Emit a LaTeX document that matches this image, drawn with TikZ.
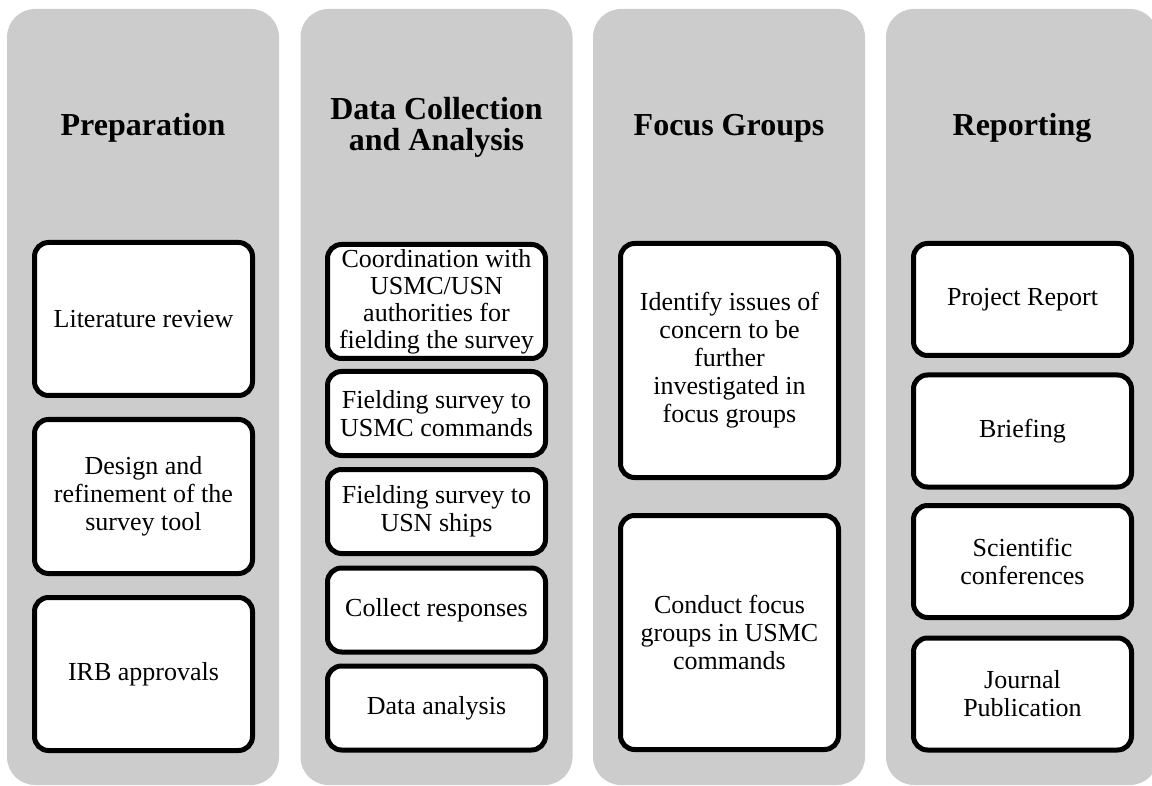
\documentclass[tikz,border=0pt]{standalone}
\usepackage{fontspec}
\setmainfont{Liberation Serif}
\usepackage{tikz}
\usetikzlibrary{positioning}
\definecolor{phasegrey}{HTML}{CCCCCC}

\begin{document}
\begin{tikzpicture}[x=0.5pt,y=-0.5pt,
	column/.style={fill=phasegrey, rounded corners=14pt, minimum width=136pt, minimum height=388pt, inner sep=0pt},
	phase/.style={font=\fontsize{16}{15.5}\selectfont\bfseries, align=center},
	task/.style={draw, fill=white, line width=2.5pt, rounded corners=7pt, minimum width=109pt, text width=104pt, inner sep=1pt, align=flush center, font=\fontsize{13}{14}\selectfont}]
	\useasboundingbox (0,0) rectangle (1152,786);
	% columns
	\node[column] (prep) at (143,397) {};
	\node[column] (data) at (436.5,397) {};
	\node[column] (focus) at (729,397) {};
	\node[column] (report) at (1022,397) {};
	% headings
	\node[phase] (prephead) at (143,128) {Preparation};
	\node[phase] (datahead) at (436.5,127) {Data Collection\\and Analysis};
	\node[phase] (focushead) at (729,128) {Focus Groups};
	\node[phase] (reporthead) at (1022,128) {Reporting};
	% preparation
	\node[task, minimum height=76.5pt] (lit) at (143.5,319) {Literature review};
	\node[task, minimum height=77pt] (design) at (143.5,496.5) {Design and\\refinement of the\\survey tool};
	\node[task, minimum height=76.5pt] (irb) at (143.5,674) {IRB approvals};
	% data collection and analysis
	\node[task, minimum height=57pt, font=\fontsize{13}{13.5}\selectfont] (coord) at (436.5,301.5) {Coordination with\\USMC/USN\\authorities for\\fielding the survey};
	\node[task, minimum height=42pt] (usmc) at (436.5,413.5) {Fielding survey to\\USMC commands};
	\node[task, minimum height=42pt] (usn) at (436.5,511.5) {Fielding survey to\\USN ships};
	\node[task, minimum height=42pt] (collect) at (436.5,610) {Collect responses};
	\node[task, minimum height=42pt] (analysis) at (436.5,708) {Data analysis};
	% focus groups
	\node[task, minimum height=117pt] (issues) at (729.5,360.5) {Identify issues of\\concern to be\\further\\investigated in\\focus groups};
	\node[task, minimum height=117pt] (conduct) at (729.5,632.5) {Conduct focus\\groups in USMC\\commands};
	% reporting
	\node[task, minimum height=56pt] (project) at (1022.5,299.5) {Project Report};
	\node[task, minimum height=56pt] (brief) at (1022.5,431) {Briefing};
	\node[task, minimum height=56pt] (conf) at (1022.5,561.5) {Scientific\\conferences};
	\node[task, minimum height=56pt] (journal) at (1022.5,694) {Journal\\Publication};
\end{tikzpicture}
\end{document}
